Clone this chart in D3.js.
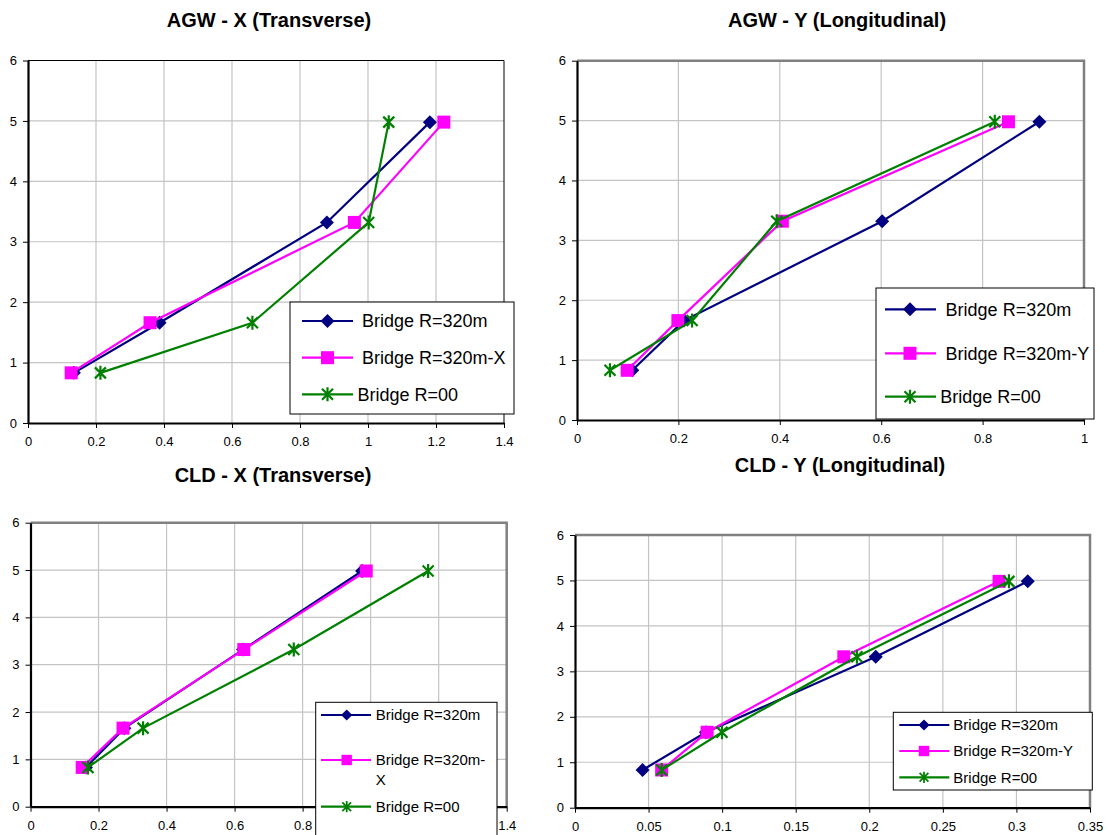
<!DOCTYPE html>
<html>
<head>
<meta charset="utf-8">
<script src="https://cdn.jsdelivr.net/npm/d3@7"></script>
<style>
  body { margin: 0; background: #fff; }
  svg { display: block; }
  text { font-family: "Liberation Sans", Arial, sans-serif; fill: #000; }
</style>
</head>
<body>
<svg id="chart" width="1109" height="835"></svg>
<script>
// ---- data ----------------------------------------------------------------
// storey heights shared by every panel (vertical axis)
const heights = [0.83, 1.66, 3.32, 4.98];
const yTickValues = [0, 1, 2, 3, 4, 5, 6];

// AGW - X (Transverse)
const agwX_R320  = [0.135, 0.387, 0.879, 1.182];
const agwX_R320X = [0.127, 0.359, 0.960, 1.223];
const agwX_R00   = [0.213, 0.660, 1.002, 1.061];

// AGW - Y (Longitudinal)
const agwY_R320  = [0.109, 0.211, 0.602, 0.912];
const agwY_R320Y = [0.099, 0.199, 0.405, 0.851];
const agwY_R00   = [0.065, 0.227, 0.394, 0.824];

// CLD - X (Transverse)
const cldX_R320  = [0.163, 0.276, 0.625, 0.975];
const cldX_R320X = [0.152, 0.272, 0.627, 0.987];
const cldX_R00   = [0.169, 0.331, 0.774, 1.169];

// CLD - Y (Longitudinal)
const cldY_R320  = [0.0459, 0.0890, 0.2044, 0.3077];
const cldY_R320Y = [0.0589, 0.0898, 0.1827, 0.2882];
const cldY_R00   = [0.0589, 0.0999, 0.1916, 0.2949];

// tick labels
const xTicks14  = [0, 0.2, 0.4, 0.6, 0.8, 1, 1.2, 1.4];
const xTicks10  = [0, 0.2, 0.4, 0.6, 0.8, 1];
const xTicks035 = [0, 0.05, 0.1, 0.15, 0.2, 0.25, 0.3, 0.35];

// series names
const namesX = ["Bridge R=320m", "Bridge R=320m-X", "Bridge R=00"];
const namesY = ["Bridge R=320m", "Bridge R=320m-Y", "Bridge R=00"];

// ---- styles ----------------------------------------------------------------
const seriesStyle = [
  { color: "#000080", marker: "diamond" },
  { color: "#FF00FF", marker: "square" },
  { color: "#008000", marker: "star" }
];
const gridColor = "#c4c4c4";

// ---- panels ----------------------------------------------------------------
const panels = [
  {
    title: "AGW - X (Transverse)", titleX: 269, titleY: 27,
    xDomain: [0, 1.4], xTicks: xTicks14,
    series: [agwX_R320, agwX_R320X, agwX_R00], names: namesX,
    left: 28, right: 504, top: 60.5, bottom: 423,
    frame: { color: "#000", width: 1 },
    legend: { x: 290, y: 302, w: 224, h: 112, rows: [321, 357.7, 394.3],
              lx1: 302, lx2: 353, mx: 327.5, tx: [362, 362, 357.5], font: 18, ms: 1 }
  },
  {
    title: "AGW - Y (Longitudinal)", titleX: 837, titleY: 27,
    xDomain: [0, 1], xTicks: xTicks10,
    series: [agwY_R320, agwY_R320Y, agwY_R00], names: namesY,
    left: 577, right: 1084, top: 60.7, bottom: 420,
    frame: { color: "#808080", width: 2.5 },
    legend: { x: 876, y: 288, w: 218, h: 131, rows: [309.3, 353.3, 396.7],
              lx1: 885, lx2: 936, mx: 910, tx: [945.6, 945.6, 940.2], font: 18, ms: 1 }
  },
  {
    title: "CLD - X (Transverse)", titleX: 273, titleY: 482,
    xDomain: [0, 1.4], xTicks: xTicks14,
    series: [cldX_R320, cldX_R320X, cldX_R00], names: namesX,
    left: 30.5, right: 506.7, top: 522.7, bottom: 806.7,
    frame: { color: "#808080", width: 2.5 },
    legend: { x: 315.7, y: 702.3, w: 181.3, h: 150, rows: [715, 760, 806.7],
              lx1: 321, lx2: 371, mx: 346.7, tx: [375.7, 375.7, 375.7], font: 15, ms: 0.8,
              wrap: { 1: ["Bridge R=320m-", "X"] } }
  },
  {
    title: "CLD - Y (Longitudinal)", titleX: 840, titleY: 472,
    xDomain: [0, 0.35], xTicks: xTicks035,
    series: [cldY_R320, cldY_R320Y, cldY_R00], names: namesY,
    left: 575, right: 1090, top: 535, bottom: 807.7,
    frame: { color: "#808080", width: 2.5 },
    legend: { x: 893.3, y: 712.3, w: 199, h: 77.7, rows: [725, 751, 777.3],
              lx1: 899.3, lx2: 949.3, mx: 924, tx: [953.3, 953.3, 953.3], font: 15, ms: 0.8 }
  }
];

const svg = d3.select("#chart");

// draws one marker symbol centred on (cx, cy)
function drawMarker(sel, kind, color, cx, cy, k) {
  const g = sel.append("g").attr("transform", `translate(${cx},${cy}) scale(${k})`);
  if (kind === "diamond") {
    g.append("path").attr("d", "M0,-7L7,0L0,7L-7,0Z").attr("fill", color);
  } else if (kind === "square") {
    g.append("rect").attr("x", -6.5).attr("y", -6.5).attr("width", 13).attr("height", 13)
      .attr("fill", color);
  } else {
    g.append("path").attr("d", "M0,-7V7M-5.5,-5.5L5.5,5.5M-5.5,5.5L5.5,-5.5")
      .attr("stroke", color).attr("stroke-width", 2.2).attr("fill", "none");
  }
}

panels.forEach(p => {
  const x = d3.scaleLinear().domain(p.xDomain).range([p.left, p.right]);
  const y = d3.scaleLinear().domain([0, 6]).range([p.bottom, p.top]);
  const g = svg.append("g");

  // gridlines
  g.append("g").selectAll("line").data(p.xTicks.slice(1, -1)).join("line")
    .attr("x1", d => x(d)).attr("x2", d => x(d))
    .attr("y1", p.top).attr("y2", p.bottom)
    .attr("stroke", gridColor).attr("stroke-width", 1.2);
  g.append("g").selectAll("line").data(yTickValues.slice(1, -1)).join("line")
    .attr("x1", p.left).attr("x2", p.right)
    .attr("y1", d => y(d)).attr("y2", d => y(d))
    .attr("stroke", gridColor).attr("stroke-width", 1.2);

  // top and right frame
  g.append("path")
    .attr("d", `M${p.left},${p.top}H${p.right}V${p.bottom}`)
    .attr("fill", "none").attr("stroke", p.frame.color).attr("stroke-width", p.frame.width);

  // axes
  const fmt = d3.format("~g");
  const xAxis = g.append("g").attr("transform", `translate(0,${p.bottom})`)
    .call(d3.axisBottom(x).tickValues(p.xTicks).tickFormat(fmt)
      .tickSize(5).tickSizeOuter(0).tickPadding(9));
  const yAxis = g.append("g").attr("transform", `translate(${p.left},0)`)
    .call(d3.axisLeft(y).tickValues(yTickValues).tickFormat(fmt)
      .tickSize(5).tickSizeOuter(0).tickPadding(6));
  [xAxis, yAxis].forEach(a => {
    a.select(".domain").attr("stroke", "#000").attr("stroke-width", 2.2);
    a.selectAll(".tick line").attr("stroke", "#000").attr("stroke-width", 1);
    a.selectAll(".tick text").attr("font-size", 13).attr("fill", "#111")
      .attr("font-family", "'Liberation Sans', Arial, sans-serif");
  });

  // series: line, then markers
  p.series.forEach((vals, i) => {
    const st = seriesStyle[i];
    const pts = vals.map((v, j) => [v, heights[j]]);
    g.append("path").datum(pts)
      .attr("d", d3.line().x(d => x(d[0])).y(d => y(d[1])))
      .attr("fill", "none").attr("stroke", st.color).attr("stroke-width", 2.2);
    pts.forEach(d => drawMarker(g, st.marker, st.color, x(d[0]), y(d[1]), 1));
  });

  // title
  svg.append("text").attr("x", p.titleX).attr("y", p.titleY)
    .attr("text-anchor", "middle").attr("font-size", 20).attr("font-weight", "bold")
    .text(p.title);

  // legend
  const L = p.legend;
  const lineGap = L.font * 1.3;
  const lg = svg.append("g");
  lg.append("rect").attr("x", L.x).attr("y", L.y).attr("width", L.w).attr("height", L.h)
    .attr("fill", "#fff").attr("stroke", "#000").attr("stroke-width", 1);
  p.names.forEach((name, i) => {
    const st = seriesStyle[i];
    const ry = L.rows[i];
    lg.append("line").attr("x1", L.lx1).attr("x2", L.lx2).attr("y1", ry).attr("y2", ry)
      .attr("stroke", st.color).attr("stroke-width", 2.2);
    drawMarker(lg, st.marker, st.color, L.mx, ry, L.ms);
    const lines = (L.wrap && L.wrap[i]) ? L.wrap[i] : [name];
    lines.forEach((t, k) => {
      lg.append("text").attr("x", L.tx[i]).attr("y", ry + k * lineGap)
        .attr("dy", "0.35em").attr("font-size", L.font).text(t);
    });
  });
});
</script>
</body>
</html>
